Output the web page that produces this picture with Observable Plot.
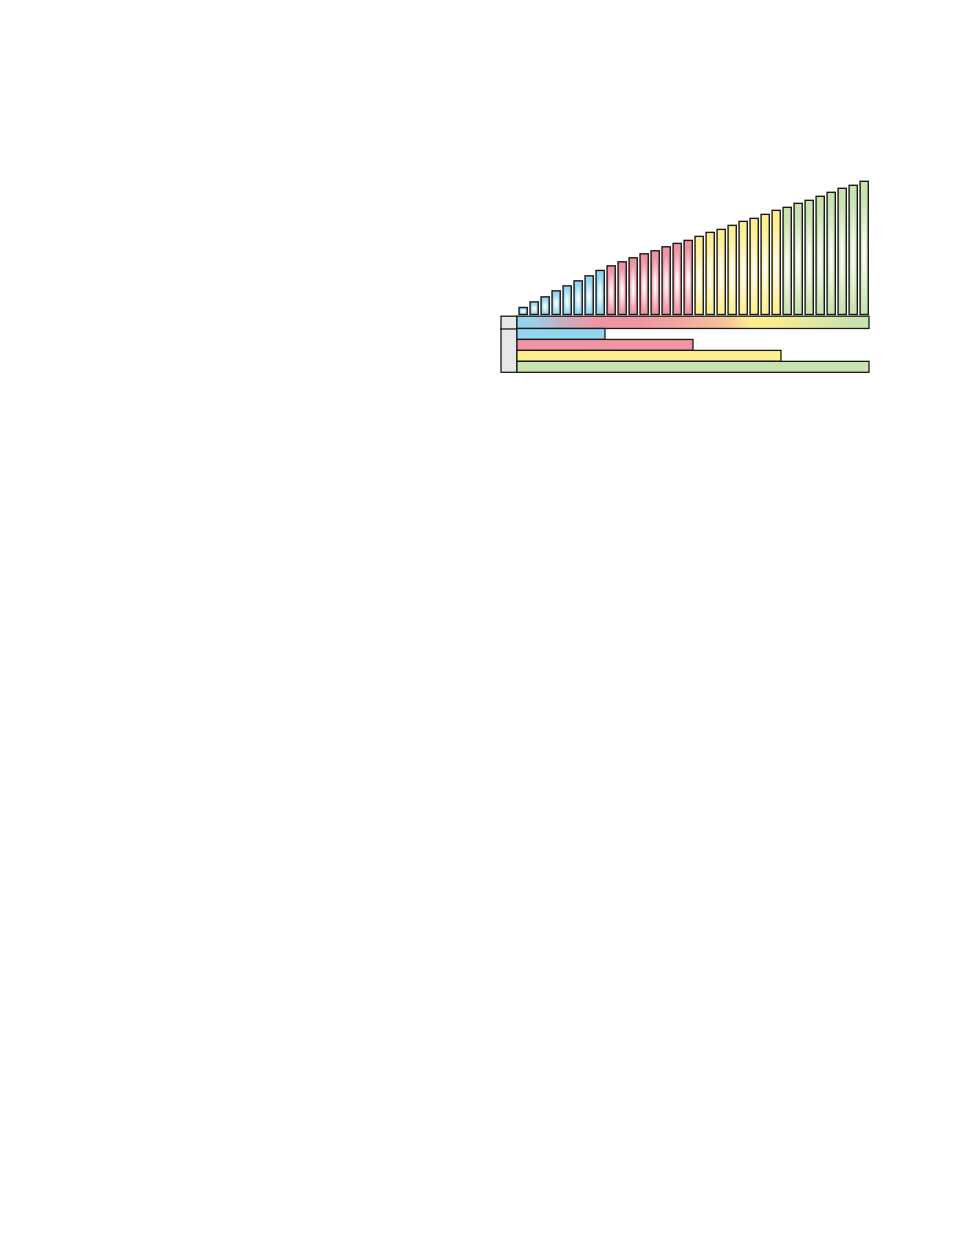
<!DOCTYPE html>
<html>
<head>
<meta charset="utf-8">
<script src="https://cdn.jsdelivr.net/npm/d3@7"></script>
<script src="https://cdn.jsdelivr.net/npm/@observablehq/plot@0.6"></script>
<style>
  html, body { margin: 0; padding: 0; background: #fff; }
  #wrap { position: relative; width: 954px; height: 1235px; }
  #wrap svg { position: absolute; left: 0; top: 0; background: transparent; }
</style>
</head>
<body>
<div id="wrap"></div>
<script>
// ---- data ----
const barValues = [7, 12.6, 17.6, 23.6, 28.6, 33.6, 38.6, 44,
                   48.6, 52.6, 56.6, 60.6, 63.6, 67.6, 71, 74,
                   78, 82, 85, 89, 93, 96, 100, 104,
                   107, 111, 114, 118, 122, 126, 129, 133];
const groupNames = ["blue", "pink", "yellow", "green"];
const groupColors = ["#93d5ef", "#ef94a1", "#fdee8f", "#c9e3ae"];
const groupSize = 8;
const rowEnds = [8, 16, 24, 32];       // cumulative bar counts per group
const keyColumn = [-1.45, 0];           // grey key column (x units)
const bandRow = [0, 1.12];              // gradient band row (y units)
const rowHeight = 1;
const bandStops = [
  [0, "#93d5ef"], [0.04, "#97d3ea"], [0.12, "#c2b4c8"], [0.22, "#ee97a3"],
  [0.34, "#ef95a1"], [0.48, "#f3aa9f"], [0.6, "#f7c597"], [0.66, "#fdee8f"],
  [0.72, "#fbee8f"], [0.95, "#c9e3ae"], [1, "#c9e3ae"]
];

const bars = barValues.map((v, i) => ({
  i: i + 1,
  value: v,
  group: groupNames[Math.floor(i / groupSize)]
}));
const rows = rowEnds.map((end, k) => ({
  group: groupNames[k],
  end,
  y1: bandRow[1] + k * rowHeight,
  y2: bandRow[1] + (k + 1) * rowHeight
}));

const NS = "http://www.w3.org/2000/svg";
function el(name, attrs) {
  const e = document.createElementNS(NS, name);
  for (const k in attrs) e.setAttribute(k, attrs[k]);
  return e;
}
function addDefs(svg, prefix) {
  const defs = el("defs", {});
  groupNames.forEach((g, k) => {
    const rg = el("radialGradient", {id: prefix + g, cx: "0.5", cy: "0.54", r: "0.6", fx: "0.5", fy: "0.54"});
    rg.appendChild(el("stop", {offset: "0", "stop-color": "#ffffff"}));
    rg.appendChild(el("stop", {offset: "0.1", "stop-color": "#fdfdfb"}));
    rg.appendChild(el("stop", {offset: "0.74", "stop-color": groupColors[k]}));
    rg.appendChild(el("stop", {offset: "1", "stop-color": groupColors[k]}));
    defs.appendChild(rg);
  });
  const lg = el("linearGradient", {id: prefix + "band", x1: "0", y1: "0", x2: "1", y2: "0"});
  bandStops.forEach(([o, c]) => lg.appendChild(el("stop", {offset: o, "stop-color": c})));
  defs.appendChild(lg);
  svg.insertBefore(defs, svg.firstChild);
}

const xScale = {domain: [keyColumn[0], 32], range: [501, 869]};

// ---- top: vertical bars ----
const barsPlot = Plot.plot({
  width: 954,
  height: 400,
  x: xScale,
  y: {domain: [0, 133], range: [314.5, 181.3]},
  axis: null,
  marks: groupNames.map(g =>
    Plot.rectY(bars.filter(d => d.group === g), {
      x1: d => d.i - 1,
      x2: d => d.i,
      y: "value",
      insetLeft: 2.1,
      insetRight: 0.7,
      fill: `url(#t-${g})`,
      stroke: "#1a1a1a",
      strokeWidth: 1.4
    })
  )
});
addDefs(barsPlot, "t-");

// ---- bottom: key column, gradient band, cumulative rows ----
const keyPlot = Plot.plot({
  width: 954,
  height: 400,
  x: xScale,
  y: {domain: [0, bandRow[1] + 4 * rowHeight], range: [316.2, 372.3]},
  axis: null,
  marks: [
    Plot.rect([{x1: keyColumn[0], x2: keyColumn[1]}], {
      x1: "x1", x2: "x2", y1: 0, y2: bandRow[1] + 4 * rowHeight,
      fill: "#e6e7e6", stroke: "#1a1a1a", strokeWidth: 1.3
    }),
    Plot.rect([{x1: 0, x2: 32}], {
      x1: "x1", x2: "x2", y1: bandRow[0], y2: bandRow[1],
      fill: "url(#b-band)", stroke: "#1a1a1a", strokeWidth: 1.3
    }),
    Plot.ruleY([bandRow[1]], {x1: keyColumn[0] - 0.1, x2: 0, stroke: "#1a1a1a", strokeWidth: 1.3}),
    ...rows.map((r, k) => Plot.rect([r], {
      x1: 0, x2: "end", y1: "y1", y2: "y2",
      fill: groupColors[k], stroke: "#1a1a1a", strokeWidth: 1.3
    }))
  ]
});
addDefs(keyPlot, "b-");

const wrap = document.getElementById("wrap");
wrap.appendChild(barsPlot);
wrap.appendChild(keyPlot);
</script>
</body>
</html>
